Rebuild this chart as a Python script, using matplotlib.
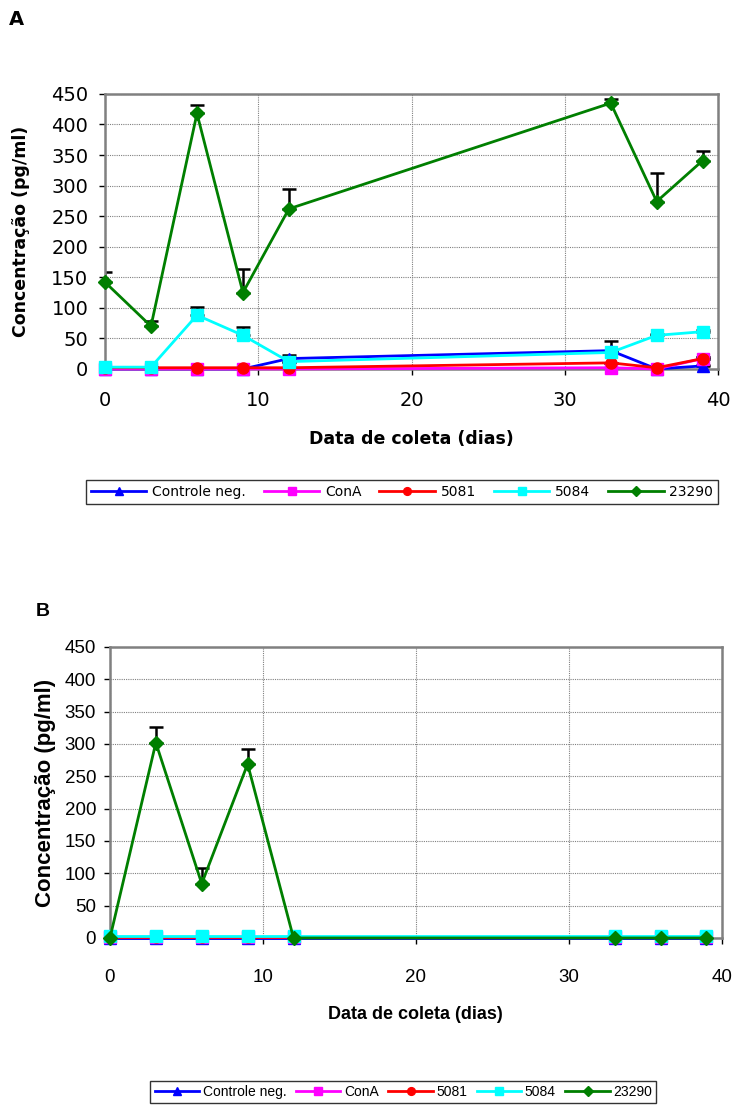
import matplotlib
matplotlib.use("Agg")
import matplotlib.pyplot as plt

plt.rcParams['font.family'] = ['Liberation Sans', 'DejaVu Sans']

# dias de coleta
dias = [0, 3, 6, 9, 12, 33, 36, 39]
series = ["Controle neg.", "ConA", "5081", "5084", "23290"]

# Painel A: medias e barra de erro (so para cima)
a_ctrl = [0, 0, 0, 0, 17, 30, 0, 5]
a_ctrl_err = [0, 0, 0, 0, 6, 16, 0, 2]
a_cona = [0, 0, 0, 0, 0, 2, 0, 17]
a_cona_err = [0, 0, 0, 0, 0, 0, 0, 2]
a_5081 = [2, 2, 2, 2, 2, 10, 2, 17]
a_5081_err = [0, 0, 0, 0, 0, 0, 0, 2]
a_5084 = [3, 3, 88, 55, 12, 27, 55, 61]
a_5084_err = [0, 0, 14, 14, 0, 0, 2, 2]
a_23290 = [142, 70, 418, 125, 262, 435, 274, 341]
a_23290_err = [16, 8, 14, 38, 32, 6, 46, 15]

# Painel B
b_ctrl = [0, 0, 0, 0, 0, 0, 0, 0]
b_cona = [2, 2, 2, 2, 2, 2, 2, 2]
b_5081 = [2, 2, 2, 2, 2, 2, 2, 2]
b_5084 = [3, 3, 3, 3, 3, 3, 3, 3]
b_23290 = [0, 302, 84, 269, 0, 0, 0, 0]
b_23290_err = [0, 24, 24, 23, 0, 0, 0, 0]
zeros = [0] * 8

colors = ["#0000ff", "#ff00ff", "#ff0000", "#00ffff", "#007f00"]
markers = ["^", "s", "o", "s", "D"]


def draw_panel(ax, values, errs, font, fs_tick, fs_ylab, fs_xlab, ypad, xpad, ylabpad, xlabpad):
    handles = []
    for name, vals, err, c, m in zip(series, values, errs, colors, markers):
        if err is not None and any(err):
            ax.errorbar(dias, vals, yerr=[zeros, err], fmt="none", ecolor="black",
                        elinewidth=1.8, capsize=5, capthick=1.8, zorder=2)
        h, = ax.plot(dias, vals, color=c, marker=m, markersize=8 if m != "D" else 7.5,
                     linewidth=2, markeredgecolor=c, label=name, zorder=3, clip_on=False)
        handles.append(h)
    ax.set_xlim(0, 40)
    ax.set_ylim(0, 450)
    ax.set_xticks([0, 10, 20, 30, 40])
    ax.set_yticks(range(0, 451, 50))
    ax.grid(True, color="#808080", linestyle=(0, (1, 1)), linewidth=0.8)
    ax.set_axisbelow(True)
    for s in ax.spines.values():
        s.set_color("#808080")
        s.set_linewidth(1.8)
    ax.tick_params(axis="x", direction="out", length=4, width=1, pad=xpad, labelsize=fs_tick)
    ax.tick_params(axis="y", direction="out", length=4, width=1, pad=ypad, labelsize=fs_tick)
    for t in ax.get_xticklabels() + ax.get_yticklabels():
        t.set_family(font)
    ax.set_ylabel("Concentração (pg/ml)", fontsize=fs_ylab, fontweight="bold", family=font, labelpad=ylabpad)
    ax.set_xlabel("Data de coleta (dias)", fontsize=fs_xlab, fontweight="bold", family=font, labelpad=xlabpad)
    return handles


fig = plt.figure(figsize=(7.38, 11.09), dpi=100)

font_a = ['DejaVu Sans']
font_b = ['Liberation Sans', 'DejaVu Sans']

# --- painel A
axA = fig.add_axes([0.1423, 0.6673, 0.8306, 0.248])
hA = draw_panel(axA, [a_ctrl, a_cona, a_5081, a_5084, a_23290],
                [a_ctrl_err, a_cona_err, a_5081_err, a_5084_err, a_23290_err],
                font_a, 14, 12.5, 12.5, 8, 12, 15, 14)
fig.text(0.012, 0.982, "A", fontsize=14, fontweight="bold", va="center", family=font_a)
legA = fig.legend(handles=hA, loc="center", bbox_to_anchor=(0.5447, 0.5563), ncol=5,
                  prop={"family": font_a, "size": 10}, frameon=True, fancybox=False,
                  edgecolor="black", handlelength=4.0, columnspacing=1.3,
                  handletextpad=0.4, borderpad=0.35, markerscale=0.7)
legA.get_frame().set_linewidth(1)

# --- painel B
axB = fig.add_axes([0.149, 0.1542, 0.829, 0.2624])
hB = draw_panel(axB, [b_ctrl, b_cona, b_5081, b_5084, b_23290],
                [None, None, None, None, b_23290_err],
                font_b, 13.5, 16, 13, 6, 18, 6, 15)
fig.text(0.048, 0.449, "B", fontsize=14, fontweight="bold", va="center", family=font_b)
legB = fig.legend(handles=hB, loc="center", bbox_to_anchor=(0.5467, 0.0155), ncol=5,
                  prop={"family": font_b, "size": 10}, frameon=True, fancybox=False,
                  edgecolor="black", handlelength=3.2, columnspacing=0.7,
                  handletextpad=0.25, borderpad=0.3, markerscale=0.7)
legB.get_frame().set_linewidth(1)

fig.savefig("out.png", dpi=100)
